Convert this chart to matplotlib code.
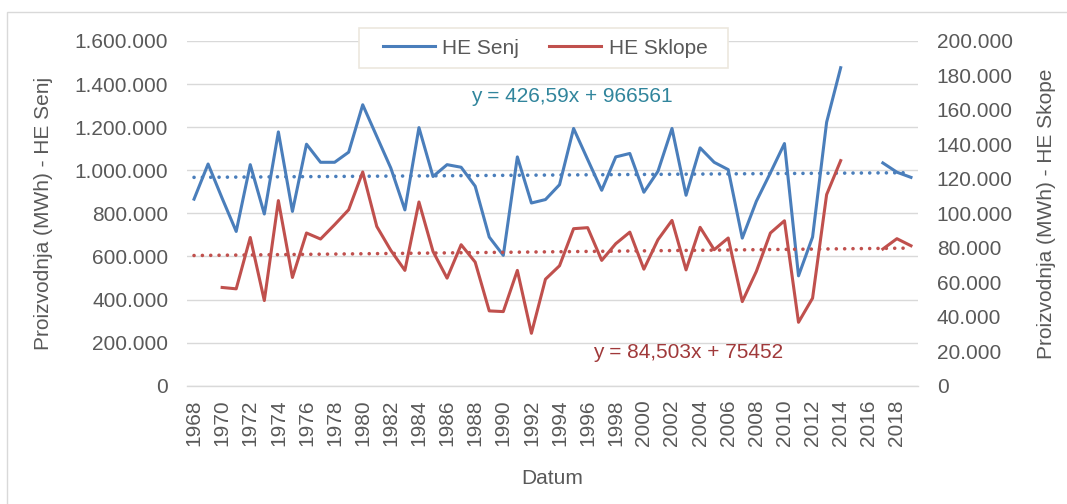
import matplotlib
matplotlib.use("Agg")
from matplotlib import pyplot as plt
from matplotlib.patches import Rectangle
from matplotlib.lines import Line2D
import numpy as np

plt.rcParams['font.family'] = ['Liberation Sans', 'DejaVu Sans']

# data
years = list(range(1968, 2020))
nan = np.nan
senj = [866000, 1029000, 870000, 716000, 1026000, 797000, 1178000, 809000,
        1121000, 1037000, 1037000, 1084000, 1304000, 1157000, 1010000, 816000,
        1198000, 971000, 1026000, 1014000, 926000, 690000, 605000, 1062000,
        848000, 864000, 933000, 1194000, 1050000, 907000, 1062000, 1078000,
        898000, 995000, 1194000, 884000, 1104000, 1037000, 1003000, 685000,
        856000, 988000, 1124000, 510000, 690000, 1223000, 1476000, nan,
        nan, 1034000, 991000, 967000]
sklope = [nan, nan, 57000, 56200, 86000, 49400, 107400, 62800,
          88600, 85100, 93400, 102100, 124000, 92400, 78500, 66900,
          106600, 77900, 62400, 81800, 71700, 43400, 43000, 66900,
          30400, 61800, 69600, 91100, 91700, 72700, 82400, 89100,
          67600, 84700, 95900, 67200, 91900, 78900, 85700, 48800,
          66300, 88600, 95700, 36800, 50800, 110900, 130600, nan,
          nan, 79300, 85300, 81200]
# trendline coefficients shown on the chart (x = 1..n)
senj_k, senj_n = 426.59, 966561
sklope_k, sklope_n = 84.503, 75452
left_ticks = [0, 200000, 400000, 600000, 800000, 1000000, 1200000, 1400000, 1600000]
right_ticks = [0, 20000, 40000, 60000, 80000, 100000, 120000, 140000, 160000, 180000, 200000]

blue = '#4a7ebb'
red = '#c0504d'
txt = '#595959'
grid = '#d9d9d9'
W, H = 1067, 504

def fmt(v):
    return f"{int(v):,}".replace(',', '.')

fig = plt.figure(figsize=(W / 100, H / 100), dpi=100)
fig.patches.append(Rectangle((7 / W, -0.1), 1.2, 1 - 12 / H + 0.1, transform=fig.transFigure,
                             fill=False, edgecolor=grid, linewidth=1.0, zorder=0))

ax = fig.add_axes([187 / W, 1 - 385.7 / H, 731 / W, 344.7 / H])
ax2 = ax.twinx()

x = np.arange(len(years))
xt = x + 1

ax.plot(x, senj, color=blue, lw=2.2, zorder=3)
ax.plot(x, senj_k * xt + senj_n, color=blue, lw=2.6, dashes=(0.01, 2.3),
        dash_capstyle='round', zorder=2)
ax2.plot(x, sklope, color=red, lw=2.2, zorder=3)
ax2.plot(x, sklope_k * xt + sklope_n, color=red, lw=2.6, dashes=(0.01, 2.3),
         dash_capstyle='round', zorder=2)

ax.set_xlim(-0.5, len(years) - 0.5)
ax.set_ylim(0, 1600000)
ax2.set_ylim(0, 200000)

ax.set_yticks(left_ticks)
ax.set_yticklabels([fmt(v) for v in left_ticks])
ax2.set_yticks(right_ticks)
ax2.set_yticklabels([fmt(v) for v in right_ticks])
ax.set_xticks(x[::2])
ax.set_xticklabels([str(y) for y in years[::2]], rotation=90)

ax.grid(axis='y', color=grid, lw=1.0)
ax.set_axisbelow(True)
for a in (ax, ax2):
    for s in a.spines.values():
        s.set_visible(False)
ax.spines['bottom'].set_visible(True)
ax.spines['bottom'].set_color(grid)
ax.spines['bottom'].set_linewidth(1.0)

ax.tick_params(axis='y', length=0, pad=13.5, labelsize=15, labelcolor=txt)
ax2.tick_params(axis='y', length=0, pad=13.5, labelsize=15, labelcolor=txt)
ax.tick_params(axis='x', length=0, pad=10, labelsize=15, labelcolor=txt)

ax.set_ylabel('Proizvodnja (MWh) - HE Senj', fontsize=15, color=txt)
ax.yaxis.set_label_coords((53 - 187) / 731, 0.5)
ax2.set_ylabel('Proizvodnja (MWh) - HE Skope', fontsize=15, color=txt)
ax2.yaxis.set_label_coords((1037 - 187) / 731, 0.5)
ax.set_xlabel('Datum', fontsize=15, color=txt)
ax.xaxis.set_label_coords(0.5, (385.7 - 478) / 344.7)
ax.xaxis.label.set_va('center')

# equations
fig.text(572 / W, 1 - 97 / H, 'y = 426,59x + 966561', fontsize=15, color='#31859c',
         ha='center', va='center')
fig.text(593 / W, 1 - 353 / H, 'y = 84,503x + 75452', fontsize=15, color='#a0393a',
         ha='left', va='center')

# legend
fig.patches.append(Rectangle((359 / W, 1 - 68 / H), 369 / W, 40 / H, transform=fig.transFigure,
                             facecolor='white', edgecolor='#ece8de', linewidth=1.2, zorder=4))
handles = [Line2D([], [], color=blue, lw=2.2), Line2D([], [], color=red, lw=2.2)]
fig.legend(handles, ['HE Senj', 'HE Sklope'], loc='center', bbox_to_anchor=(545 / W, 1 - 48 / H),
           ncol=2, frameon=False, fontsize=15, labelcolor=txt, handlelength=2.5,
           handletextpad=0.35, columnspacing=1.45)

fig.savefig('out.png', dpi=100)
